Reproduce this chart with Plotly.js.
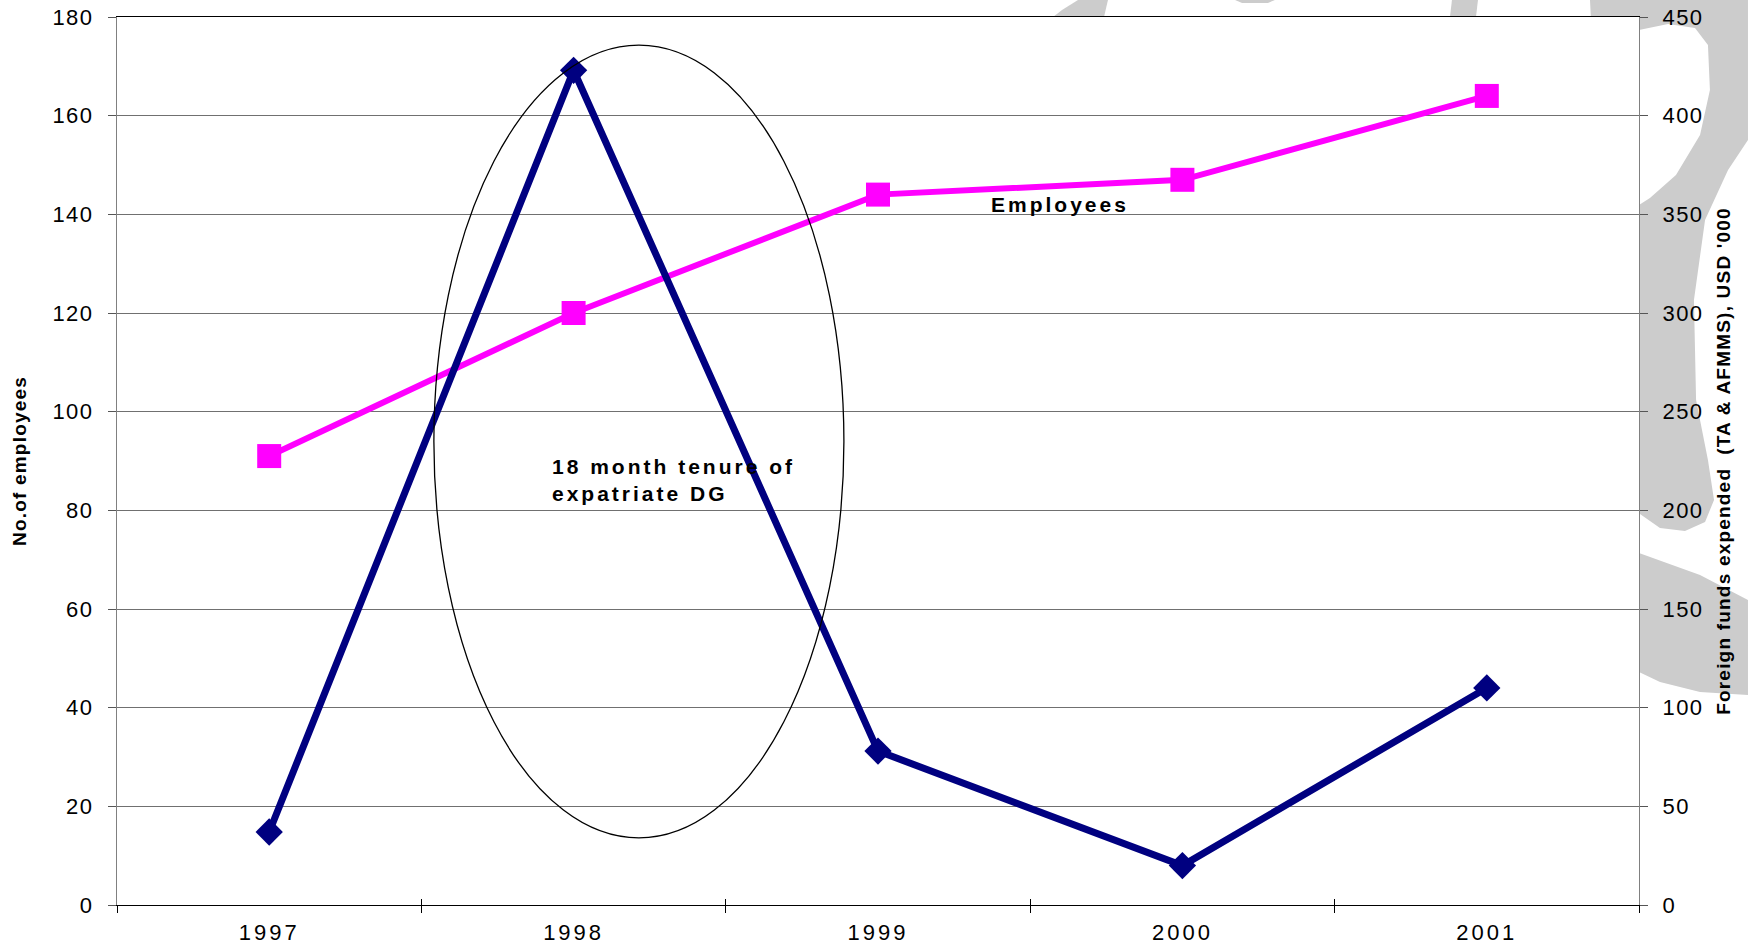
<!DOCTYPE html>
<html><head><meta charset="utf-8">
<script src="https://cdn.plot.ly/plotly-3.0.1.min.js"></script>
<style>
html,body{margin:0;padding:0;background:#fff;}
#chart{width:1748px;height:945px;}
.ytick text,.y2tick text{letter-spacing:1.5px;}
.xtick text{letter-spacing:3px;}
.annotation-text{letter-spacing:3px;}
.ytitle,.y2title{letter-spacing:1.2px;}
</style></head><body><div id="chart"></div>
<script>
// ---- data ----
const years = ['1997', '1998', '1999', '2000', '2001'];
const employees = [91, 120, 144, 147, 164];
const foreignFunds = [37, 423, 78, 20, 110];
const leftTicks = [0, 20, 40, 60, 80, 100, 120, 140, 160, 180];
const rightTicks = [0, 50, 100, 150, 200, 250, 300, 350, 400, 450];
const leftTitle = 'No.of employees';
const rightTitle = "Foreign funds expended  (TA & AFMMS), USD '000";
const seriesLabel = 'Employees';
const noteText = '18 month tenure of<br>expatriate DG';

// ---- decoration (background watermark, pixel geometry -> paper) ----
const PL = 117, PR = 1639, PT = 17, PB = 905;
function pathFromPx(pts) {
  return 'M' + pts.map(p => ((p[0] - PL) / (PR - PL)).toFixed(4) + ',' + ((PB - p[1]) / (PB - PT)).toFixed(4)).join(' L') + ' Z';
}
const gray = '#cccccc';
const wm = [
  [[1590,0],[1748,0],[1748,140],[1728,170],[1705,220],[1694,300],[1696,400],[1708,460],[1714,500],[1705,522],[1685,531],[1660,528],[1620,500],[1600,400],[1600,200]],
  [[1500,520],[1639,553],[1700,575],[1748,600],[1748,695],[1700,692],[1660,682],[1639,672],[1500,640]],
  [[1078,0],[1108,0],[1104,17],[1053,17],[1062,10]],
  [[1235,0],[1275,0],[1268,3],[1242,3]],
  [[1452,0],[1478,0],[1476,17],[1450,17]]
];
const blob = [[1620,30],[1639,30],[1668,24],[1695,28],[1708,45],[1710,90],[1700,135],[1676,175],[1650,198],[1639,205],[1620,205]];

const shapes = wm.map(p => ({type:'path', xref:'paper', yref:'paper', path:pathFromPx(p), fillcolor:gray, line:{width:0}, layer:'below'}));
shapes.push({type:'path', xref:'paper', yref:'paper', path:pathFromPx(blob), fillcolor:'#ffffff', line:{width:0}, layer:'below'});
shapes.push({type:'rect', xref:'paper', yref:'paper', x0:0, x1:1, y0:0, y1:1, fillcolor:'#ffffff', line:{width:0}, layer:'below'});
// ellipse highlighting 1998
shapes.push({type:'circle', xref:'x', yref:'y', x0:0.541, x1:1.888, y0:13.6, y1:174.3, line:{color:'#000000', width:1.3}, fillcolor:'rgba(0,0,0,0)', layer:'above'});

const traces = [
  {x: years, y: employees, type:'scatter', mode:'lines+markers', name:'Employees',
   line:{color:'#FF00FF', width:6}, marker:{symbol:'square', size:24, color:'#FF00FF'}, hoverinfo:'skip'},
  {x: years, y: foreignFunds, type:'scatter', mode:'lines+markers', name:'Foreign funds', yaxis:'y2',
   line:{color:'#000080', width:7}, marker:{symbol:'diamond', size:21, color:'#000080'}, hoverinfo:'skip'},
  // helper (draws nothing) so the inner half of the crossing x ticks can be drawn
  {x: years, y: employees, type:'scatter', mode:'none', xaxis:'x2', hoverinfo:'skip', showlegend:false}
];

const tickFont = {family:'Liberation Sans, Arial, sans-serif', size:22, color:'#000'};
const titleFont = {family:'Liberation Sans, Arial, sans-serif', size:19, weight:'bold', color:'#000'};
const layout = {
  width:1748, height:945,
  margin:{l:PL, r:1748-PR, t:PT, b:945-PB},
  paper_bgcolor:'#ffffff', plot_bgcolor:'#ffffff',
  showlegend:false,
  xaxis:{type:'category', range:[-0.5, 4.5], tickson:'boundaries', ticks:'outside', ticklen:7, tickcolor:'#000', tickwidth:1,
         showline:true, linecolor:'#000', linewidth:1, mirror:true, showgrid:false, zeroline:false,
         tickfont:tickFont, ticklabelstandoff:8, automargin:false, fixedrange:true},
  xaxis2:{type:'category', range:[-0.5, 4.5], overlaying:'x', anchor:'y', side:'bottom', tickson:'boundaries', ticks:'inside', ticklen:6,
         tickcolor:'#000', tickwidth:1, showline:false, showgrid:false, zeroline:false, showticklabels:false, automargin:false, fixedrange:true},
  yaxis:{range:[0,180], tickvals:leftTicks, ticktext:leftTicks.map(String), ticks:'outside', ticklen:8, tickcolor:'#555', tickwidth:1,
         showline:true, linecolor:'#808080', linewidth:1, showgrid:true, gridcolor:'#707070', gridwidth:1, zeroline:false,
         tickfont:tickFont, ticklabelstandoff:10, automargin:false, fixedrange:true,
         title:{text:leftTitle, font:titleFont, standoff:20}},
  yaxis2:{range:[0,450], tickvals:rightTicks, ticktext:rightTicks.map(String), overlaying:'y', side:'right', ticks:'outside', ticklen:8, tickcolor:'#555', tickwidth:1,
         showline:true, linecolor:'#808080', linewidth:1, showgrid:false, zeroline:false,
         tickfont:tickFont, ticklabelstandoff:10, automargin:false, fixedrange:true,
         title:{text:rightTitle, font:titleFont, standoff:14}},
  shapes: shapes,
  annotations:[
    {xref:'x', yref:'y', x:2.598, y:141.9, text:seriesLabel, showarrow:false, xanchor:'center', yanchor:'middle',
     font:{family:'Liberation Sans, Arial, sans-serif', size:21, weight:'bold', color:'#000'}},
    {xref:'x', yref:'y', x:0.922, y:86.2, text:noteText, showarrow:false, xanchor:'left', yanchor:'middle', align:'left',
     font:{family:'Liberation Sans, Arial, sans-serif', size:21, weight:'bold', color:'#000'}}
  ]
};
Plotly.newPlot('chart', traces, layout, {displayModeBar:false, staticPlot:true});
</script></body></html>
